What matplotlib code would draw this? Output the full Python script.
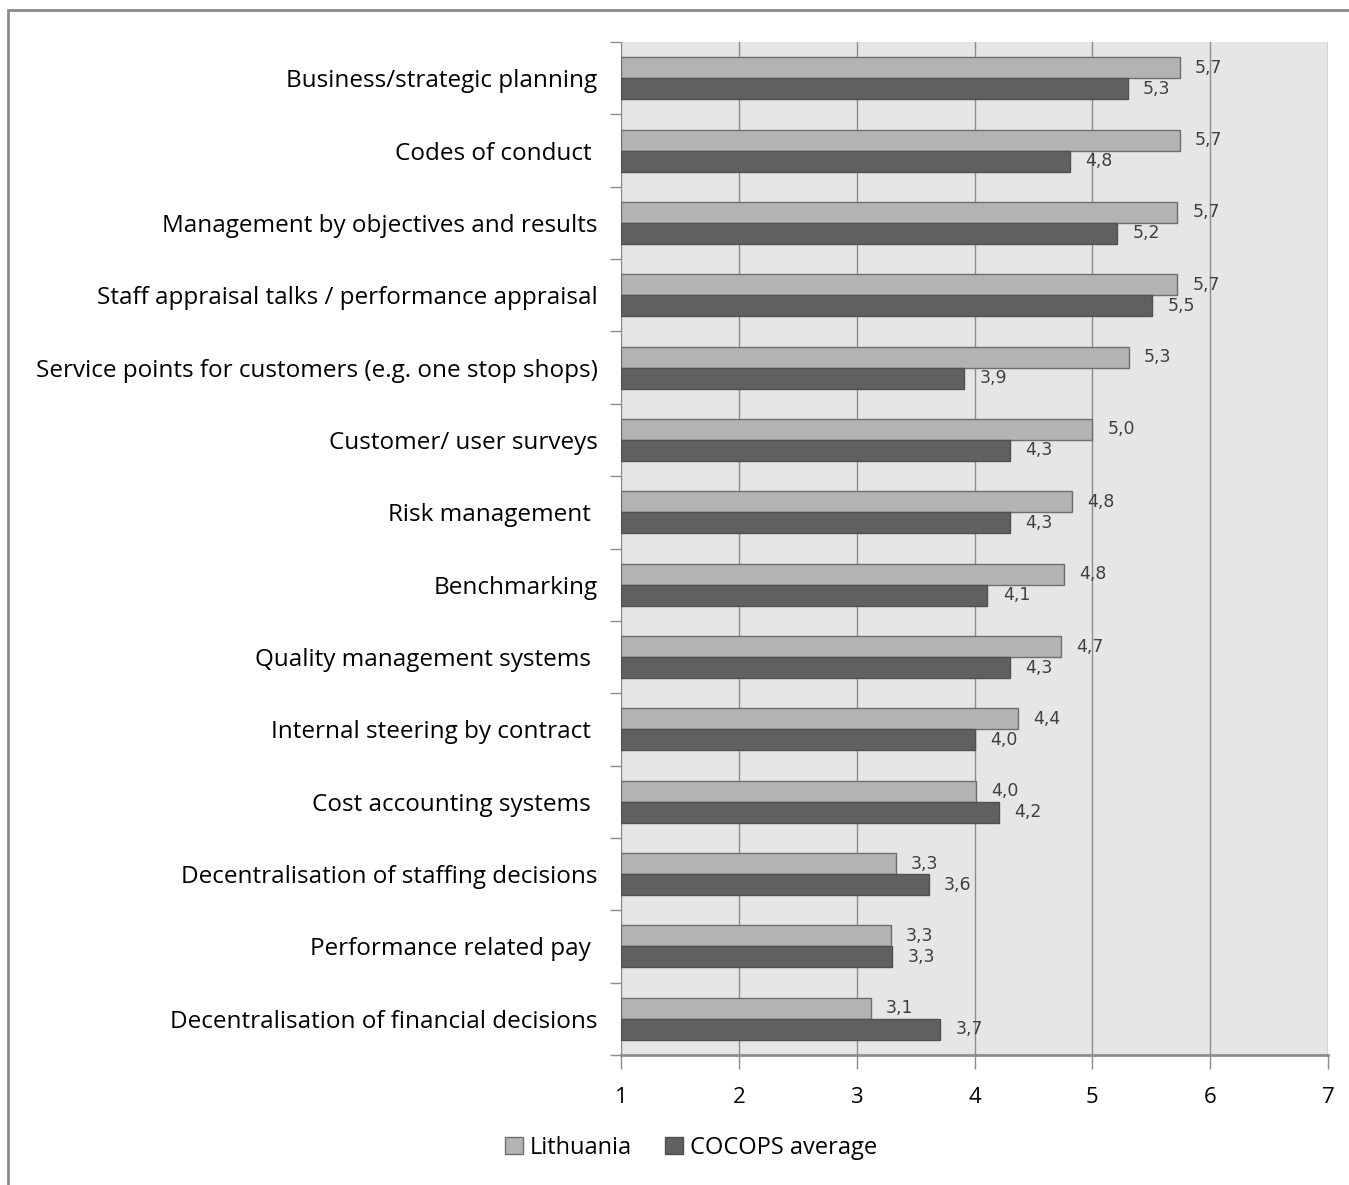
import numpy as np
import matplotlib
matplotlib.use("Agg")
import matplotlib.pyplot as plt
from matplotlib.patches import Rectangle

categories = [
    "Business/strategic planning",
    "Codes of conduct ",
    "Management by objectives and results",
    "Staff appraisal talks / performance appraisal",
    "Service points for customers (e.g. one stop shops)",
    "Customer/ user surveys",
    "Risk management ",
    "Benchmarking",
    "Quality management systems ",
    "Internal steering by contract ",
    "Cost accounting systems ",
    "Decentralisation of staffing decisions",
    "Performance related pay ",
    "Decentralisation of financial decisions",
]
lithuania = [5.74, 5.74, 5.72, 5.72, 5.31, 5.00, 4.83, 4.76, 4.73, 4.37, 4.01, 3.33, 3.29, 3.12]
cocops = [5.30, 4.81, 5.21, 5.51, 3.91, 4.30, 4.30, 4.11, 4.30, 4.00, 4.21, 3.61, 3.30, 3.71]
xticks = [1, 2, 3, 4, 5, 6, 7]

fig = plt.figure(figsize=(13.49, 11.85), dpi=100)
fig.patch.set_facecolor("white")

# slide frame
fig.add_artist(Rectangle((8 / 1349, -0.01), 1.0, 1 - 10 / 1185 + 0.01,
                         transform=fig.transFigure, fill=False,
                         edgecolor="#8a8a8a", linewidth=2))

ax = fig.add_axes([621 / 1349, 1 - 1055 / 1185, 707 / 1349, 1013 / 1185])
ax.set_facecolor("#e6e6e6")

y = np.arange(len(categories))
h = 0.29
ax.barh(y - h / 2, np.array(lithuania) - 1, left=1, height=h, color="#b3b3b3",
        edgecolor="#6e6e6e", linewidth=1, label="Lithuania", zorder=3)
ax.barh(y + h / 2, np.array(cocops) - 1, left=1, height=h, color="#606060",
        edgecolor="#505050", linewidth=1, label="COCOPS average", zorder=3)

for i in range(len(categories)):
    ax.text(lithuania[i] + 0.13, y[i] - h / 2, f"{lithuania[i]:.1f}".replace(".", ","),
            ha="left", va="center", fontsize=12.5, color="#404040", family="DejaVu Sans", zorder=4)
    ax.text(cocops[i] + 0.13, y[i] + h / 2, f"{cocops[i]:.1f}".replace(".", ","),
            ha="left", va="center", fontsize=12.5, color="#404040", family="DejaVu Sans", zorder=4)

ax.set_xlim(1, 7)
ax.set_ylim(len(categories) - 0.5, -0.5)
ax.set_xticks(xticks)
ax.set_xticklabels([str(t) for t in xticks], fontsize=16, family="Open Sans")
ax.grid(axis="x", color="#8c8c8c", linewidth=1, zorder=1)
ax.set_axisbelow(True)

ax.set_yticks(y)
ax.set_yticklabels(categories, fontsize=17.5, family="Open Sans")
ax.tick_params(axis="y", length=0, pad=17)
ax.set_yticks(np.arange(len(categories) + 1) - 0.5, minor=True)
ax.tick_params(axis="y", which="minor", length=8, color="#8c8c8c", width=1)
ax.tick_params(axis="x", length=10, color="#8c8c8c", width=1, pad=13)

for s in ["top", "right"]:
    ax.spines[s].set_visible(False)
ax.spines["left"].set_color("#8c8c8c")
ax.spines["bottom"].set_color("#8c8c8c")
ax.spines["bottom"].set_linewidth(2)

fig.legend(loc="center", bbox_to_anchor=(691 / 1349, 1 - 1148 / 1185), ncol=2,
           frameon=False, prop={"family": "Open Sans", "size": 17},
           handlelength=0.75, handleheight=0.75, handletextpad=0.3, columnspacing=1.4)

fig.savefig("out.png", dpi=100)
